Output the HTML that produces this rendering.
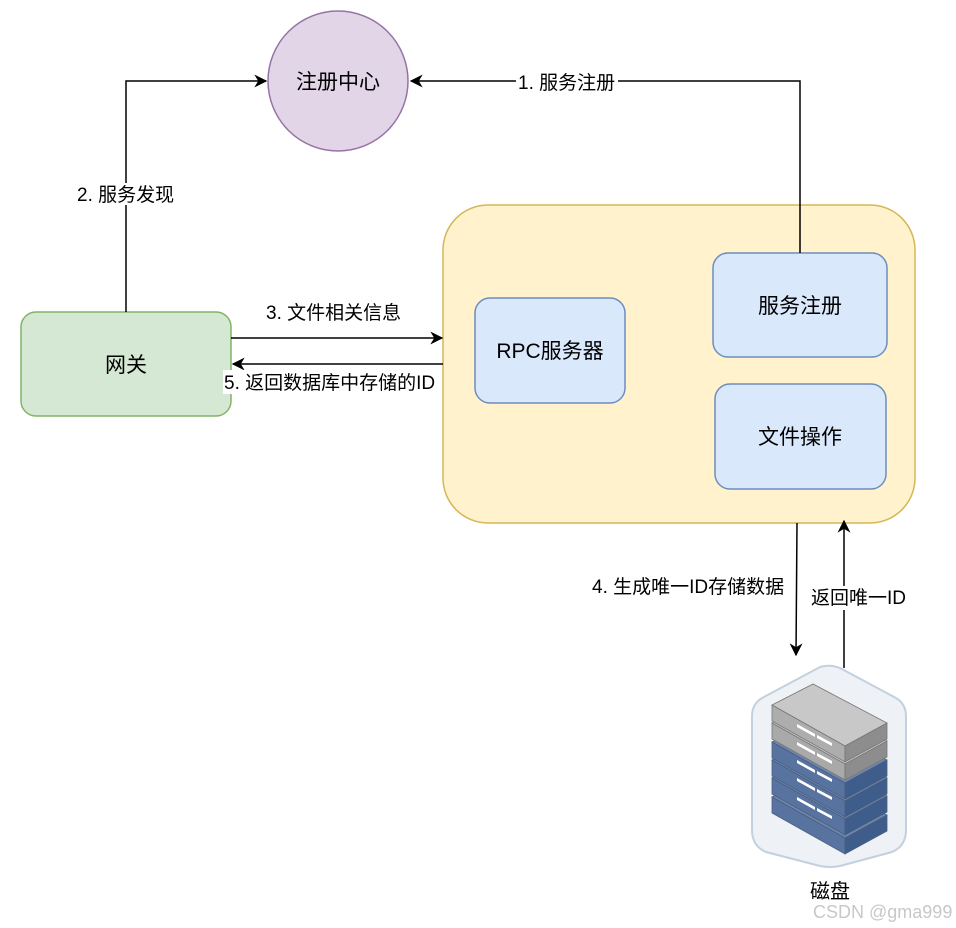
<!DOCTYPE html>
<html><head><meta charset="utf-8"><style>
html,body{margin:0;padding:0;background:#fff;width:956px;height:928px;overflow:hidden}
svg{display:block}
text{font-family:"Liberation Sans","Noto Sans CJK SC",sans-serif;fill:#000}
</style></head><body>
<svg width="956" height="928" viewBox="0 0 956 928" xmlns="http://www.w3.org/2000/svg">
<defs>
<marker id="ar" viewBox="0 0 10 10" refX="9" refY="5" markerWidth="13" markerHeight="13" markerUnits="userSpaceOnUse" orient="auto">
<path d="M0,0 L10,5 L0,10 L3,5 Z" fill="#000"/></marker>
</defs>
<rect x="443" y="205" width="472" height="318" rx="45" fill="#fff2cc" stroke="#d6b656" stroke-width="1.5"/>
<rect x="475" y="298" width="150" height="105" rx="15" fill="#dae8fc" stroke="#6c8ebf" stroke-width="1.5"/>
<text x="550" y="358" font-size="21" text-anchor="middle">RPC服务器</text>
<rect x="713" y="253" width="174" height="104" rx="15" fill="#dae8fc" stroke="#6c8ebf" stroke-width="1.5"/>
<text x="800" y="313" font-size="21" text-anchor="middle">服务注册</text>
<rect x="715" y="384" width="171" height="105" rx="15" fill="#dae8fc" stroke="#6c8ebf" stroke-width="1.5"/>
<text x="800" y="444" font-size="21" text-anchor="middle">文件操作</text>
<circle cx="338" cy="81" r="70" fill="#e1d5e7" stroke="#9673a6" stroke-width="1.5"/>
<text x="338" y="89" font-size="21" text-anchor="middle">注册中心</text>
<rect x="21" y="312" width="210" height="104" rx="15" fill="#d5e8d4" stroke="#82b366" stroke-width="1.5"/>
<text x="126" y="372" font-size="21" text-anchor="middle">网关</text>
<path d="M800,253 V81 H411" fill="none" stroke="#000" stroke-width="1.5" marker-end="url(#ar)"/>
<rect x="516" y="70" width="102" height="22" fill="#fff"/>
<text x="518" y="89" font-size="19">1. 服务注册</text>
<path d="M126,312 V81 H266" fill="none" stroke="#000" stroke-width="1.5" marker-end="url(#ar)"/>
<rect x="76" y="183" width="102" height="22" fill="#fff"/>
<text x="77" y="201" font-size="19">2. 服务发现</text>
<path d="M231,338 H442" fill="none" stroke="#000" stroke-width="1.5" marker-end="url(#ar)"/>
<text x="266" y="319" font-size="19">3. 文件相关信息</text>
<path d="M443,364 H233" fill="none" stroke="#000" stroke-width="1.5" marker-end="url(#ar)"/>
<rect x="223" y="370" width="216" height="24" fill="#fff"/>
<text x="224" y="389" font-size="19">5. 返回数据库中存储的ID</text>
<path d="M797,523 L796,655" fill="none" stroke="#000" stroke-width="1.5" marker-end="url(#ar)"/>
<text x="592" y="593" font-size="19">4. 生成唯一ID存储数据</text>
<path d="M844,668 V521" fill="none" stroke="#000" stroke-width="1.5" marker-end="url(#ar)"/>
<rect x="810" y="586" width="98" height="24" fill="#fff"/>
<text x="811" y="604" font-size="19">返回唯一ID</text>
<path d="M820,667 Q830,664 840,668 L896,698 Q906,704 906,716 L906,830 Q906,846 892,852 L840,866 Q830,868 820,866 L766,852 Q752,846 752,830 L752,716 Q752,704 762,698 Z" fill="#eef1f5" stroke="#c3d0de" stroke-width="2"/>
<g stroke="#4a5f7e" stroke-width="0.8">
<polygon points="772,797 813,776 887,815 845,838" fill="#6e87b0"/>
<polygon points="772,797 845,838 845,854 772,813" fill="#5873a0"/>
<polygon points="845,838 887,815 887,831 845,854" fill="#3f5d8a"/>
<polygon points="772,778 813,757 887,796 845,819" fill="#6e87b0"/>
<polygon points="772,778 845,819 845,835 772,794" fill="#5873a0"/>
<polygon points="845,819 887,796 887,812 845,835" fill="#3f5d8a"/>
<polygon points="772,760 813,739 887,778 845,801" fill="#6e87b0"/>
<polygon points="772,760 845,801 845,817 772,776" fill="#5873a0"/>
<polygon points="845,801 887,778 887,794 845,817" fill="#3f5d8a"/>
<polygon points="772,742 813,721 887,760 845,783" fill="#6e87b0"/>
<polygon points="772,742 845,783 845,799 772,758" fill="#5873a0"/>
<polygon points="845,783 887,760 887,776 845,799" fill="#3f5d8a"/>
</g>
<g stroke="#777" stroke-width="0.8">
<polygon points="772,723 813,702 887,741 845,764" fill="#c8c8c8"/>
<polygon points="772,723 845,764 845,780 772,739" fill="#a9a9a9"/>
<polygon points="845,764 887,741 887,757 845,780" fill="#8d8d8d"/>
<polygon points="772,705 813,684 887,723 845,746" fill="#c8c8c8"/>
<polygon points="772,705 845,746 845,762 772,721" fill="#adadad"/>
<polygon points="845,746 887,723 887,739 845,762" fill="#8d8d8d"/>
</g>
<g fill="#fff">
<polygon points="797,724 815,734 815,737 797,727"/>
<polygon points="797,742 815,752 815,755 797,745"/>
<polygon points="797,760 815,770 815,773 797,763"/>
<polygon points="797,778 815,788 815,791 797,781"/>
<polygon points="797,797 815,807 815,810 797,800"/>
<polygon points="817,735 832,743 832,746 817,738"/>
<polygon points="817,753 832,761 832,764 817,756"/>
<polygon points="817,771 832,779 832,782 817,774"/>
<polygon points="817,789 832,797 832,800 817,792"/>
<polygon points="817,808 832,816 832,819 817,811"/>
</g>
<text x="830" y="898" font-size="20" text-anchor="middle">磁盘</text>
<text x="813" y="918" font-size="18" style="fill:#c8c8c8">CSDN @gma999</text>
</svg>
</body></html>
